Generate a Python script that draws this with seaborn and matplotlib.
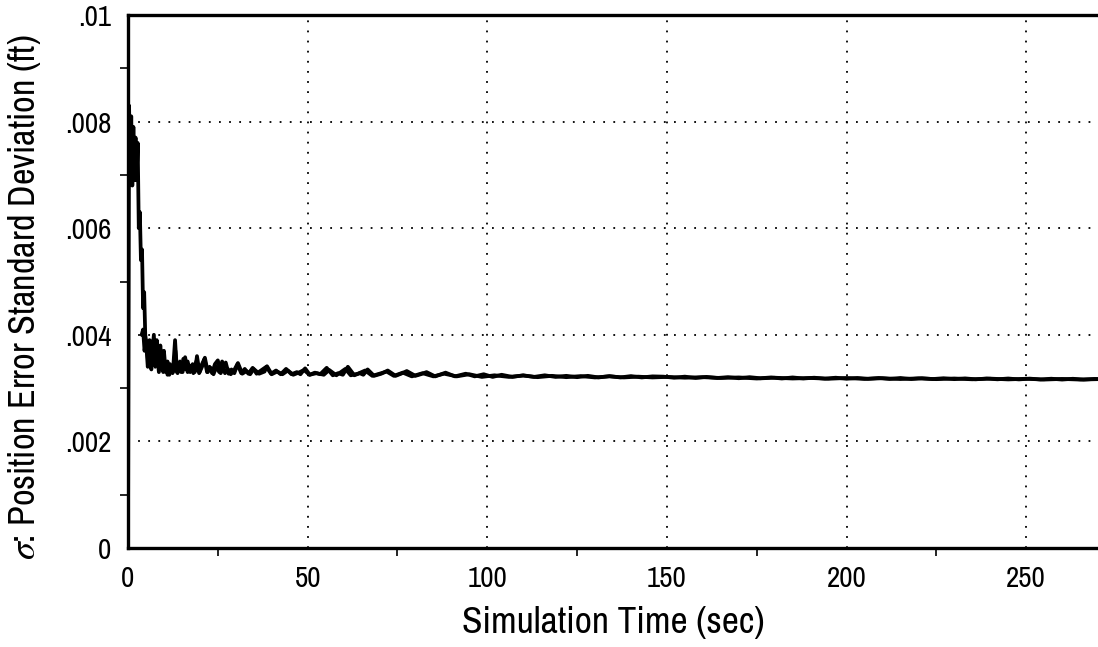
import numpy as np
import pandas as pd
import matplotlib
matplotlib.use("Agg")
import matplotlib.pyplot as plt
from matplotlib.ticker import MultipleLocator, FixedLocator
import seaborn as sns

# Monte Carlo run A: time (sec) and position error std dev (units of 1e-3 ft)
run_a_time = [
    0.0, 0.3, 0.6, 0.9, 1.2, 1.5, 1.8, 2.1, 2.4, 2.7, 3.0, 3.3, 3.6, 3.9, 4.2, 4.5,
    4.8, 5.2, 5.6, 6.0, 6.4, 6.8, 7.2, 7.6, 8.0, 8.5, 9.0, 9.5, 10.0, 10.5, 11.0,
    11.5, 12.0, 12.5, 13.1, 13.6, 14.2, 14.8, 15.4, 16.0, 16.6, 17.3, 18.0, 18.6,
    19.2, 19.9, 20.6, 21.3, 22.0, 22.7, 23.4, 24.2, 25.0, 25.8, 26.5, 27.2, 28.0,
    28.8, 29.6, 30.5, 31.5, 32.5, 33.5, 34.7, 35.8, 37.0, 38.5, 39.8, 41.2, 42.5,
    44.0, 45.5, 47.0, 48.0, 49.3, 50.6, 52.0, 53.5, 55.3, 57.0, 58.5, 59.8, 61.2,
    63.0, 64.5, 65.5, 66.7, 68.5, 70.5, 72.3, 74.5, 76.0, 77.6, 80.0, 81.5, 83.1,
    85.5, 88.4, 91.0, 94.0, 96.5, 99.0, 101.5, 104.0, 107.0, 110.0, 113.0, 116.0,
    119.0, 122.0, 125.0, 128.0, 131.0, 134.0, 137.0, 140.0, 143.0, 146.0, 149.0,
    152.0, 155.0, 158.0, 161.0, 164.0, 167.0, 170.0, 173.0, 176.0, 179.0, 182.0,
    185.0, 188.0, 191.0, 194.0, 197.0, 200.0, 203.0, 206.0, 209.0, 212.0, 215.0,
    218.0, 221.0, 224.0, 227.0, 230.0, 233.0, 236.0, 239.0, 242.0, 245.0, 248.0,
    251.0, 254.0, 257.0, 260.0, 263.0, 266.0, 269.0, 270.0,
]
run_a_sigma = [
    0.0, 8.3, 7.0, 8.1, 6.8, 7.9, 6.9, 7.7, 6.9, 7.6, 6.0, 6.3, 5.4, 5.6, 4.5, 4.8,
    4.0, 3.8, 3.5, 3.9, 3.4, 3.7, 4.0, 3.4, 3.9, 3.5, 3.8, 3.4, 3.7, 3.3, 3.5,
    3.25, 3.4, 3.3, 3.9, 3.3, 3.45, 3.3, 3.55, 3.35, 3.5, 3.3, 3.45, 3.3,
    3.6, 3.3, 3.45, 3.55, 3.3, 3.4, 3.28, 3.45, 3.52, 3.28, 3.38, 3.48, 3.27,
    3.35, 3.28, 3.45, 3.28, 3.36, 3.27, 3.38, 3.27, 3.33, 3.40, 3.27, 3.33, 3.26,
    3.36, 3.26, 3.30, 3.26, 3.37, 3.25, 3.29, 3.26, 3.38, 3.24, 3.28, 3.25, 3.40,
    3.24, 3.28, 3.25, 3.35, 3.23, 3.27, 3.33, 3.23, 3.27, 3.32, 3.23, 3.26, 3.30,
    3.22, 3.29, 3.22, 3.27, 3.22, 3.26, 3.21, 3.25, 3.21, 3.24, 3.21, 3.24,
    3.21, 3.23, 3.205, 3.23, 3.20, 3.225, 3.20, 3.225, 3.20, 3.22, 3.215,
    3.195, 3.215, 3.19, 3.21, 3.19, 3.205, 3.185, 3.205, 3.185, 3.20, 3.18,
    3.20, 3.18, 3.195, 3.178, 3.195, 3.175, 3.19, 3.175, 3.19, 3.172, 3.19,
    3.17, 3.185, 3.17, 3.185, 3.168, 3.182, 3.165, 3.18, 3.165, 3.18, 3.163,
    3.178, 3.162, 3.176, 3.16, 3.175, 3.16, 3.172, 3.17,
]

# Monte Carlo run B
run_b_time = [
    3.8, 4.2, 4.6, 5.0, 5.5, 6.0, 6.5, 7.0, 7.5, 8.0, 8.6, 9.2, 9.8, 10.4, 11.0,
    11.7, 12.4, 13.2, 13.8, 14.5, 15.2, 15.9, 16.6, 17.4, 18.2, 19.0, 19.8, 20.6,
    21.4, 22.2, 23.0, 23.8, 24.6, 25.4, 26.2, 27.0, 27.8, 28.6, 29.5, 30.6, 31.8,
    33.0, 34.0, 35.0, 36.5, 38.0, 38.7, 40.0, 41.5, 43.0, 44.5, 46.0, 47.5, 49.0,
    50.5, 52.5, 54.5, 56.0, 58.0, 60.5, 62.0, 64.0, 66.0, 68.0, 70.0, 72.0, 74.0,
    76.5, 79.0, 82.0, 85.0, 88.0, 91.5, 95.0, 98.5, 102.0, 106.0, 110.0, 114.0,
    118.0, 122.0, 126.0, 130.0, 134.0, 138.0, 142.0, 146.0, 150.0, 155.0, 160.0,
    165.0, 170.0, 175.0, 180.0, 185.0, 190.0, 195.0, 200.0, 205.0, 210.0, 215.0,
    220.0, 225.0, 230.0, 235.0, 240.0, 245.0, 250.0, 255.0, 260.0, 265.0, 270.0,
]
run_b_sigma = [
    4.0, 4.1, 3.7, 3.9, 3.4, 3.6, 3.35, 3.9, 3.45, 3.7, 3.3, 3.6, 3.3, 3.5, 3.25,
    3.45, 3.28, 3.7, 3.28, 3.5, 3.3, 3.58, 3.3, 3.42, 3.28, 3.5, 3.28, 3.40,
    3.57, 3.3, 3.38, 3.26, 3.4, 3.3, 3.5, 3.28, 3.36, 3.26, 3.33, 3.47, 3.27,
    3.32, 3.26, 3.36, 3.27, 3.31, 3.41, 3.26, 3.31, 3.26, 3.33, 3.25, 3.29, 3.34,
    3.25, 3.28, 3.25, 3.34, 3.24, 3.36, 3.24, 3.27, 3.33, 3.23, 3.27, 3.31, 3.23,
    3.29, 3.22, 3.28, 3.22, 3.27, 3.22, 3.26, 3.21, 3.24, 3.21, 3.235, 3.205,
    3.23, 3.205, 3.225, 3.20, 3.22, 3.20, 3.215, 3.20, 3.21, 3.195, 3.205,
    3.19, 3.20, 3.18, 3.195, 3.18, 3.19, 3.175, 3.19, 3.172, 3.185, 3.17,
    3.183, 3.168, 3.18, 3.165, 3.178, 3.163, 3.175, 3.16, 3.172, 3.16, 3.168,
]

x_ticks = [0, 50, 100, 150, 200, 250]
y_ticks = [0.0, 0.002, 0.004, 0.006, 0.008, 0.010]
y_tick_labels = ["0", ".002", ".004", ".006", ".008", ".01"]

df = pd.concat([
    pd.DataFrame({"time": run_a_time, "sigma": np.array(run_a_sigma) * 1e-3, "run": "A"}),
    pd.DataFrame({"time": run_b_time, "sigma": np.array(run_b_sigma) * 1e-3, "run": "B"}),
], ignore_index=True)

sns.set_theme(style="white")
plt.rcParams["font.family"] = ["Archivo Narrow", "Roboto Condensed", "DejaVu Sans"]
plt.rcParams["mathtext.fontset"] = "stix"

fig = plt.figure(figsize=(10.98, 6.47), dpi=100)
ax = fig.add_axes([128 / 1098, 1 - 548 / 647, 1 - 128 / 1098, (548 - 15) / 647])

sns.lineplot(data=df, x="time", y="sigma", units="run", estimator=None,
             color="black", linewidth=2.7, ax=ax, sort=False)

ax.set_xlim(0, 270)
ax.set_ylim(0, 0.010)

ax.xaxis.set_major_locator(FixedLocator(x_ticks))
ax.xaxis.set_minor_locator(MultipleLocator(25))
ax.yaxis.set_major_locator(FixedLocator(y_ticks))
ax.yaxis.set_minor_locator(MultipleLocator(0.001))
ax.set_yticklabels(y_tick_labels)

ax.tick_params(axis="both", which="major", length=0, pad=12, labelsize=21, colors="black")
ax.tick_params(axis="both", which="minor", direction="out", length=6, width=1.2, color="black")
ax.tick_params(axis="x", which="minor", bottom=True)
ax.tick_params(axis="y", which="minor", left=True)

ax.grid(True, which="major", color="black", linestyle=(0, (1, 4.6)), linewidth=1.3)

for side in ("left", "bottom", "top"):
    ax.spines[side].set_visible(True)
    ax.spines[side].set_color("black")
    ax.spines[side].set_linewidth(2.4)
ax.spines["right"].set_visible(False)

ax.set_xlabel("Simulation Time (sec)", fontsize=27, labelpad=10, color="black")
ax.set_ylabel(r"$\sigma$: Position Error Standard Deviation (ft)", fontsize=26,
              color="black")
ax.yaxis.set_label_coords(-0.088, 0.47)

fig.savefig("out.png", dpi=100)
